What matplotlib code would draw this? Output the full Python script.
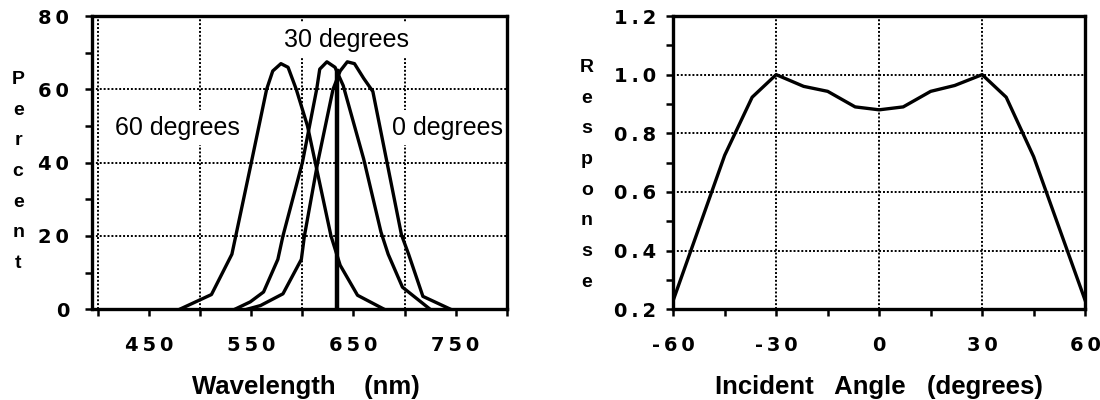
import matplotlib
matplotlib.use("Agg")
import matplotlib.pyplot as plt

plt.rcParams['font.family'] = ['Liberation Sans', 'DejaVu Sans']

# left panel: filter transmission vs wavelength
wl_60 = [480, 511, 531, 550, 565, 571, 579, 586, 594, 605, 628, 637, 654, 680]
pct_60 = [0, 4, 15, 40, 60, 65, 67, 66, 60, 50, 20, 12, 3.8, 0]

wl_30 = [534, 549, 562, 576, 581, 600, 614, 617, 624, 632, 640, 660, 677, 684, 698, 725]
pct_30 = [0, 2, 4.7, 13.6, 20, 40, 60, 65.5, 67.5, 66, 61, 41, 21, 15, 6, 0]

wl_0 = [546, 559, 581, 599, 602, 615, 630, 637, 644, 651, 660, 669, 697, 704, 718, 745]
pct_0 = [0, 1, 4.2, 13.6, 20, 40, 60, 65, 67.5, 67, 63, 59.4, 20.3, 15, 3.5, 0]

laser_wl = 634
laser_top = 65

wl_ticks = [450, 550, 650, 750]
pct_ticks = [0, 20, 40, 60, 80]

# right panel: response vs incident angle
angle = [-60, -45, -37, -30, -22, -15, -7, 0, 7, 15, 22, 30, 37, 45, 60]
resp = [0.23, 0.725, 0.923, 1.0, 0.96, 0.943, 0.89, 0.88, 0.89, 0.943, 0.963, 1.0, 0.923, 0.72, 0.23]

angle_ticks = [-60, -30, 0, 30, 60]
resp_ticks = [0.2, 0.4, 0.6, 0.8, 1.0, 1.2]


def spaced(s):
    # old mac charts set the digits wide apart
    return '\u2009'.join(s)


fig = plt.figure(figsize=(11, 4), dpi=100)
ax1 = fig.add_axes([0.0836, 0.227, 0.377, 0.733])
ax2 = fig.add_axes([0.612, 0.227, 0.3745, 0.733])

lw = 2.4
grid_kw = dict(color='black', linestyle=(0, (1, 1)), linewidth=1.4)
tick_font = dict(fontsize=14, fontweight='bold', family='DejaVu Sans')
lab_font = dict(fontsize=18.5, fontweight='bold')

# ---- left
ax1.plot(wl_60, pct_60, color='black', lw=lw, zorder=3)
ax1.plot(wl_30, pct_30, color='black', lw=lw, zorder=3)
ax1.plot(wl_0, pct_0, color='black', lw=lw, zorder=3)
ax1.plot([laser_wl, laser_wl], [0, laser_top], color='black', lw=3.2, zorder=3)

ax1.set_xlim(394, 800)
ax1.set_ylim(0, 80)
ax1.set_xticks(wl_ticks)
ax1.set_xticks([400, 500, 600, 700, 800], minor=True)
ax1.set_yticks(pct_ticks)
ax1.set_yticks([10, 30, 50, 70], minor=True)
ax1.set_xticklabels([spaced(str(v)) for v in wl_ticks], **tick_font)
ax1.set_yticklabels([spaced(str(v)) for v in pct_ticks], **tick_font)
ax1.grid(which='minor', axis='x', **grid_kw)
ax1.grid(which='major', axis='y', **grid_kw)

txt_kw = dict(fontsize=18, ha='center', va='center', zorder=4,
              bbox=dict(facecolor='white', edgecolor='none', pad=4))
ax1.text(643, 73.5, '30 degrees', **txt_kw)
ax1.text(478, 49.5, '60 degrees', **txt_kw)
ax1.text(742, 49.5, '0 degrees', **txt_kw)

ax1.text(-0.178, 0.47, '\n'.join('Percent'), transform=ax1.transAxes,
         ha='center', va='center', fontsize=14, fontweight='bold', linespacing=2.05)
ax1.text(0.516, -0.265, 'Wavelength    (nm)', transform=ax1.transAxes,
         ha='center', va='center', **lab_font)

# ---- right
ax2.plot(angle, resp, color='black', lw=lw, zorder=3)
ax2.set_xlim(-60, 60)
ax2.set_ylim(0.2, 1.2)
ax2.set_xticks(angle_ticks)
ax2.set_xticks([-45, -15, 15, 45], minor=True)
ax2.set_yticks(resp_ticks)
ax2.set_yticks([0.3, 0.5, 0.7, 0.9, 1.1], minor=True)
ax2.set_xticklabels([spaced(str(v)) for v in angle_ticks], **tick_font)
ax2.set_yticklabels([spaced('%.1f' % v) for v in resp_ticks], **tick_font)
ax2.grid(which='major', **grid_kw)

ax2.text(-0.209, 0.458, '\n'.join('Response'), transform=ax2.transAxes,
         ha='center', va='center', fontsize=14, fontweight='bold', linespacing=2.05)
ax2.text(0.5, -0.265, 'Incident   Angle   (degrees)', transform=ax2.transAxes,
         ha='center', va='center', **lab_font)

for ax in (ax1, ax2):
    for s in ax.spines.values():
        s.set_linewidth(2.4)
        s.set_zorder(5)
    ax.tick_params(which='both', direction='out', length=5, width=1.8, color='black')
    ax.tick_params(axis='x', which='major', pad=14)
ax1.tick_params(axis='y', which='major', pad=11.5)
ax2.tick_params(axis='y', which='major', pad=7)

fig.savefig('out.png', dpi=100, facecolor='white')
